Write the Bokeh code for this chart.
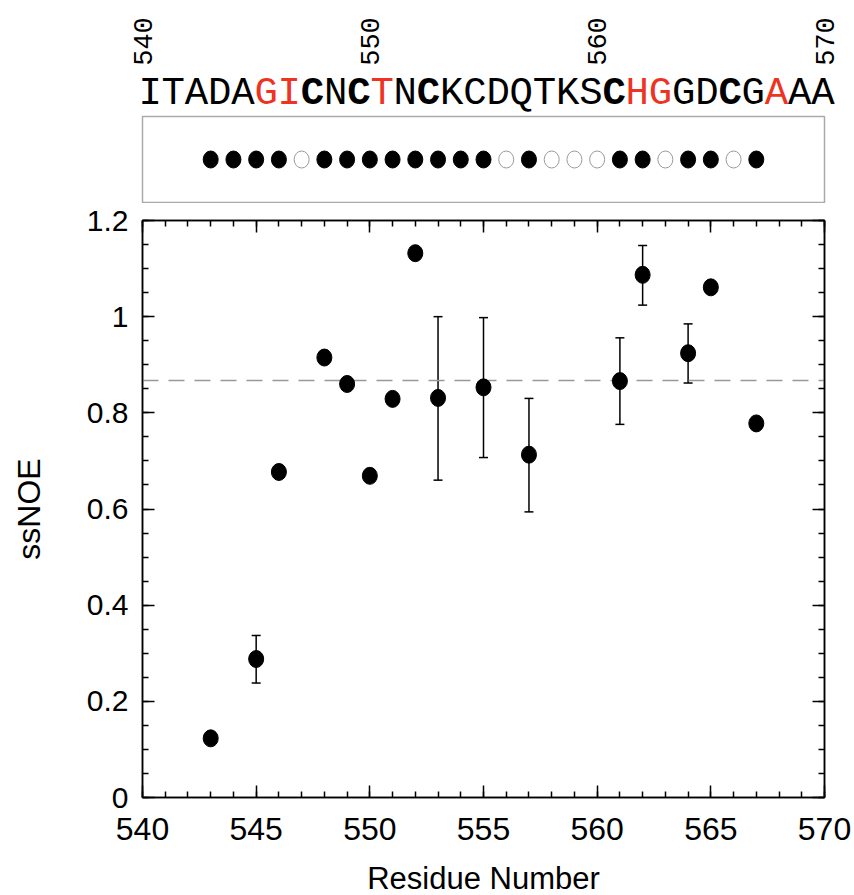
import numpy as np
from bokeh.plotting import figure
from bokeh.models import (ColumnDataSource, Range1d, LinearAxis, FixedTicker,
                          Whisker, TeeHead, LabelSet)
from bokeh.layouts import column
from bokeh.core.properties import value
from bokeh.embed import file_html
from bokeh.resources import INLINE

# ---------------- data ----------------
residues = [543, 545, 546, 548, 549, 550, 551, 552, 553, 555, 557, 561, 562, 564, 565, 567]
ssnoe = [0.123, 0.288, 0.677, 0.915, 0.860, 0.669, 0.829, 1.132, 0.831, 0.853,
         0.713, 0.866, 1.087, 0.924, 1.061, 0.778]

err_res = [545, 553, 555, 557, 561, 562, 564]
err_low = [0.238, 0.660, 0.707, 0.594, 0.776, 1.024, 0.862]
err_high = [0.337, 1.000, 0.998, 0.830, 0.956, 1.148, 0.985]

ref_line = 0.867

seq_letters = list("ITADAGICNCTNCKCDQTKSCHGGDCGAAA")
seq_red = [0, 0, 0, 0, 0, 1, 1, 0, 0, 0, 1, 0, 0, 0, 0,
           0, 0, 0, 0, 0, 0, 1, 1, 0, 0, 0, 0, 1, 0, 0]
seq_bold = [0, 0, 0, 0, 0, 0, 0, 1, 0, 1, 0, 0, 1, 0, 0,
            0, 0, 0, 0, 0, 1, 0, 0, 0, 0, 1, 0, 0, 0, 0]

dot_res = [543, 544, 545, 546, 547, 548, 549, 550, 551, 552, 553, 554, 555,
           556, 557, 558, 559, 560, 561, 562, 563, 564, 565, 566, 567]
dot_filled = [1, 1, 1, 1, 0, 1, 1, 1, 1, 1, 1, 1, 1,
              0, 1, 0, 0, 0, 1, 1, 0, 1, 1, 0, 1]

x_ticks = [540, 545, 550, 555, 560, 565, 570]
x_tick_labels = ["540", "545", "550", "555", "560", "565", "570"]
y_ticks = [0, 0.2, 0.4, 0.6, 0.8, 1.0, 1.2]
y_tick_labels = ["0", "0.2", "0.4", "0.6", "0.8", "1", "1.2"]
top_ticks = [540, 550, 560, 570]
top_tick_labels = ["540", "550", "560", "570"]

# ---------------- layout constants (pixels) ----------------
X0, X1 = 540, 570
Y0, Y1 = 0, 1.2
FW = 682                    # frame width of dot panel and main plot
BL = 142
BR = 28
TOTAL_W = BL + FW + BR
PPU = FW / (X1 - X0)
SEQ_PITCH = 23.2            # character pitch of the sequence string
SEQ_OFF = 0.328             # first character centre offset (in pitches)
H1 = 115                    # height of the sequence panel
SANS = "Liberation Sans"
MONO = "Liberation Mono"
RED = "#ee3322"

# ---------------- panel 1: tick labels + sequence (full-width frame) ----------------
f1 = figure(frame_width=TOTAL_W, frame_height=H1, min_border_left=0, min_border_right=0,
            min_border_top=0, min_border_bottom=0, frame_align=False,
            x_range=Range1d(X0 - BL / PPU, X0 + (TOTAL_W - BL) / PPU),
            y_range=Range1d(H1, 0),
            x_axis_location=None, y_axis_location=None,
            toolbar_location=None, output_backend="svg")
seq_start = -SEQ_OFF - BL / SEQ_PITCH
f1.extra_x_ranges = {"seq": Range1d(seq_start, seq_start + TOTAL_W / SEQ_PITCH)}
f1.outline_line_color = None
f1.grid.visible = False

tick_src = ColumnDataSource(dict(x=top_ticks, label=top_tick_labels))
f1.add_layout(LabelSet(x="x", y=41, text="label", source=tick_src, angle=np.pi / 2,
                       text_font=value(MONO), text_font_size=value("27px"),
                       text_color="black", text_align="center", text_baseline="middle"))

seq_src = ColumnDataSource(dict(
    idx=list(range(len(seq_letters))),
    letter=seq_letters,
    color=[RED if r else "black" for r in seq_red],
    style=["bold" if b else "normal" for b in seq_bold],
))
f1.add_layout(LabelSet(x="idx", y=103, text="letter", source=seq_src, x_range_name="seq",
                       text_color="color", text_font_style="style",
                       text_font=value(MONO), text_font_size=value("39px"),
                       text_align="center", text_baseline="alphabetic"))

# ---------------- panel 2: dot panel ----------------
f2 = figure(frame_width=FW, frame_height=86, min_border_left=BL, min_border_right=BR,
            min_border_top=1, min_border_bottom=1, frame_align=False,
            x_range=Range1d(X0, X1), y_range=Range1d(-1, 1),
            x_axis_location=None, y_axis_location=None,
            toolbar_location=None, output_backend="svg")
f2.outline_line_color = "#aaaaaa"
f2.outline_line_width = 1.5
f2.grid.visible = False

dot_src = ColumnDataSource(dict(
    x=dot_res,
    fill=["black" if f else "white" for f in dot_filled],
    line=["black" if f else "#9a9a9a" for f in dot_filled],
))
f2.ellipse(x="x", y=0, width=15, height=17, width_units="screen", height_units="screen",
           fill_color="fill", line_color="line", line_width=1, source=dot_src)

# ---------------- panel 3: main plot ----------------
p = figure(frame_width=FW, frame_height=577, min_border_left=BL, min_border_right=BR,
           min_border_top=17, min_border_bottom=80, frame_align=False,
           x_range=Range1d(X0, X1), y_range=Range1d(Y0, Y1),
           toolbar_location=None, output_backend="svg")
p.grid.visible = False
p.outline_line_color = "black"
p.outline_line_width = 1.5

x_minor = list(range(X0, X1 + 1))
y_minor = [round(v, 2) for v in np.arange(Y0, Y1 + 0.0001, 0.05)]

def style_axis(ax, ticks, minor, labels, show_labels, font_size):
    ax.ticker = FixedTicker(ticks=ticks, minor_ticks=minor)
    ax.axis_line_color = "black"
    ax.axis_line_width = 1.5
    ax.major_tick_in = 12
    ax.major_tick_out = 0
    ax.minor_tick_in = 6
    ax.minor_tick_out = 0
    ax.major_tick_line_width = 1.5
    ax.minor_tick_line_width = 1.5
    ax.major_tick_line_color = "black"
    ax.minor_tick_line_color = "black"
    if show_labels:
        ax.major_label_overrides = {t: l for t, l in zip(ticks, labels)}
        ax.major_label_text_font = SANS
        ax.major_label_text_font_size = font_size
        ax.major_label_text_color = "black"
    else:
        ax.major_label_text_font_size = "1px"
        ax.major_label_text_color = None
        ax.major_label_standoff = 0

xa = p.xaxis[0]
style_axis(xa, x_ticks, x_minor, x_tick_labels, True, "32px")
xa.major_label_standoff = 20
xa.axis_label = "Residue Number"
xa.axis_label_text_font = SANS
xa.axis_label_text_font_size = "31px"
xa.axis_label_text_font_style = "normal"
xa.axis_label_text_color = "black"
xa.axis_label_standoff = 18

ya = p.yaxis[0]
style_axis(ya, y_ticks, y_minor, y_tick_labels, True, "30px")
ya.major_label_standoff = 14
ya.axis_label = "ssNOE"
ya.axis_label_text_font = SANS
ya.axis_label_text_font_size = "32px"
ya.axis_label_text_font_style = "normal"
ya.axis_label_text_color = "black"
ya.axis_label_standoff = 37

ta = LinearAxis()
style_axis(ta, x_ticks, x_minor, x_tick_labels, False, "1px")
p.add_layout(ta, "above")
ra = LinearAxis()
style_axis(ra, y_ticks, y_minor, y_tick_labels, False, "1px")
p.add_layout(ra, "right")

p.segment(x0=X0, x1=X1, y0=ref_line, y1=ref_line, line_color="#999999",
          line_dash="16 10", line_width=1.5)

err_src = ColumnDataSource(dict(x=err_res, lo=err_low, hi=err_high))
p.add_layout(Whisker(base="x", lower="lo", upper="hi", source=err_src, dimension="height",
                     line_color="black", line_width=1.5,
                     upper_head=TeeHead(size=9, line_color="black", line_width=1.5),
                     lower_head=TeeHead(size=9, line_color="black", line_width=1.5)))

pt_src = ColumnDataSource(dict(x=residues, y=ssnoe))
p.ellipse(x="x", y="y", width=15, height=17, width_units="screen", height_units="screen",
          fill_color="black", line_color="black", source=pt_src)

layout = column(f1, f2, p, spacing=0)
open("out.html", "w").write(file_html(layout, INLINE))
